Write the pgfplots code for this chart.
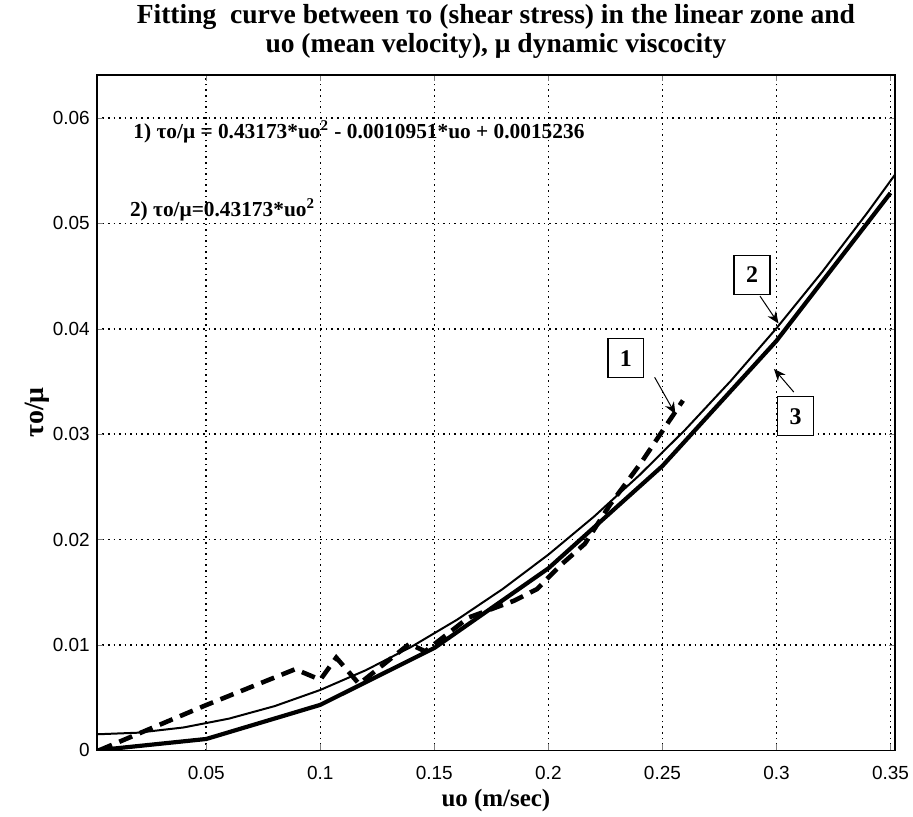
\documentclass[border=0pt]{standalone}
\usepackage{fontspec}
\setmainfont{Liberation Serif}
\newfontfamily\arialf{Liberation Sans}
\usepackage{pgfplots}
\pgfplotsset{compat=1.18}
\usetikzlibrary{arrows.meta, calc}

% thin line: polynomial fit
\pgfplotstableread{
u tau
0.002 0.0015231
0.02 0.0016744
0.04 0.0021706
0.06 0.0030121
0.08 0.0041991
0.10 0.0057314
0.12 0.0076091
0.14 0.0098322
0.16 0.0124007
0.18 0.0153146
0.20 0.0185738
0.22 0.0221784
0.24 0.0261284
0.26 0.0304238
0.28 0.0350646
0.30 0.0400508
0.32 0.0453824
0.34 0.0510593
0.352 0.0546320
}\polyfit

% thick line: tau/mu = 0.43173 uo^2 at coarse points
\pgfplotstableread{
u tau
0.002 0.0000017
0.05 0.0010793
0.10 0.0043173
0.15 0.0097139
0.20 0.0172692
0.25 0.0269831
0.30 0.0388557
0.35 0.0528869
}\quadfit

% dashed: measured
\pgfplotstableread{
u tau
0.003 0.0000
0.050 0.0043
0.089 0.0077
0.100 0.0067
0.107 0.0088
0.117 0.0063
0.139 0.0101
0.146 0.0094
0.165 0.0126
0.185 0.0142
0.195 0.0153
0.205 0.0175
0.216 0.0196
0.227 0.0233
0.241 0.0274
0.259 0.0332
}\measured

\begin{document}
\begin{tikzpicture}
\begin{axis}[
  scale only axis,
  width=400pt, height=338.5pt,
  xmin=0.002, xmax=0.352, ymin=0, ymax=0.0641,
  xtick={0.05,0.1,...,0.36}, ytick={0,0.01,...,0.061},
  scaled ticks=false,
  xticklabel style={/pgf/number format/fixed, /pgf/number format/precision=2, yshift=-4.5pt},
  yticklabel style={/pgf/number format/fixed, /pgf/number format/precision=2},
  /pgf/number format/assume math mode=true,
  tick label style={font=\arialf\fontsize{9.5}{11}\selectfont, black},
  tick align=inside, major tick length=3pt,
  axis line style={black, line width=0.8pt},
  grid=major, major grid style={black, line width=0.8pt, dotted},
  title={Fitting\ \ curve between τo (shear stress) in the linear zone and\\uo (mean velocity), μ dynamic viscocity},
  title style={align=center, font=\bfseries\fontsize{13.8}{14.5}\selectfont, yshift=-1.5pt},
  xlabel={uo (m/sec)},
  xlabel style={font=\bfseries\fontsize{12.5}{14}\selectfont, yshift=2pt},
  ylabel={τo/μ},
  ylabel style={font=\bfseries\fontsize{14}{16}\selectfont, yshift=-5pt},
  clip=true,
]
\addplot[black, line width=1pt] table[x=u, y=tau] {\polyfit};
\addplot[black, line width=2.1pt] table[x=u, y=tau] {\quadfit};
\addplot[black, line width=2.3pt, dash pattern=on 7pt off 4pt] table[x=u, y=tau] {\measured};

\node[anchor=west, font=\bfseries\fontsize{10.7}{12}\selectfont] at (axis cs:0.0150,0.0587)
  {1) τo/μ = 0.43173*uo$^{\mathbf{2}}$ - 0.0010951*uo + 0.0015236};
\node[anchor=west, font=\bfseries\fontsize{10.7}{12}\selectfont] at (axis cs:0.0135,0.0513)
  {2) τo/μ=0.43173*uo$^{\mathbf{2}}$};

\node[draw, fill=white, line width=0.6pt, font=\bfseries\fontsize{12}{14}\selectfont, minimum width=18pt, minimum height=19.5pt, inner sep=1pt] at (axis cs:0.234,0.0372) {1};
\node[draw, fill=white, line width=0.6pt, font=\bfseries\fontsize{12}{14}\selectfont, minimum width=18pt, minimum height=19.5pt, inner sep=1pt] at (axis cs:0.2893,0.0451) {2};
\node[draw, fill=white, line width=0.6pt, font=\bfseries\fontsize{12}{14}\selectfont, minimum width=18pt, minimum height=19.5pt, inner sep=1pt] at (axis cs:0.3084,0.0317) {3};
\draw[-{Stealth[length=6pt, width=5pt]}, line width=0.5pt] (axis cs:0.2466,0.0354) -- (axis cs:0.2557,0.0319);
\draw[-{Stealth[length=6pt, width=5pt]}, line width=0.5pt] (axis cs:0.2928,0.0431) -- (axis cs:0.3009,0.0405);
\draw[-{Stealth[length=6pt, width=5pt]}, line width=0.5pt] (axis cs:0.3076,0.0340) -- (axis cs:0.2989,0.0362);

\coordinate (ll) at (rel axis cs:0,0);
\coordinate (ur) at (rel axis cs:1,1);
\end{axis}
\pgfresetboundingbox
\path[use as bounding box] ($(ll)+(-48.5pt,-33pt)$) rectangle ($(ur)+(9pt,37.5pt)$);
\end{tikzpicture}
\end{document}
